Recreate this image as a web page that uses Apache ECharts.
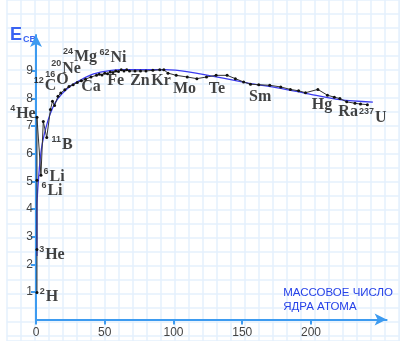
<!DOCTYPE html>
<html lang="ru">
<head>
<meta charset="UTF-8">
<title>Энергия связи</title>
<style>
  html, body { margin: 0; padding: 0; background: #fff; }
  #chart { width: 400px; height: 341px; }
</style>
</head>
<body>
<div id="chart"></div>
<script src="https://cdn.jsdelivr.net/npm/echarts@6/dist/echarts.min.js"></script>
<script>
// experimental curve (black, with dots)
var expA = [0.7, 0.7, 0.7, 0.7, 3.6, 5.3, 7.8, 10.5, 12, 13.5, 16, 18, 21, 24, 27, 30, 33, 36, 40, 44, 46, 48, 50, 52, 54, 56, 58, 60, 62, 64, 66, 68, 72, 76, 80, 85, 90, 93, 96, 102, 110, 117, 124, 131, 139, 145, 151, 156, 162, 170, 178, 185, 191, 196, 205, 212, 217, 221, 226, 232, 236, 241];
var expE = [0.98, 2.54, 5.04, 7.32, 5.22, 7.17, 6.59, 7.6, 7.9, 7.75, 8.08, 8.2, 8.32, 8.44, 8.5, 8.58, 8.64, 8.7, 8.78, 8.84, 8.88, 8.85, 8.92, 8.9, 8.96, 8.94, 9.0, 8.98, 9.04, 9.0, 9.04, 9.0, 9.0, 9.0, 9.0, 9.02, 9.04, 9.04, 8.92, 8.84, 8.78, 8.72, 8.78, 8.84, 8.84, 8.72, 8.6, 8.52, 8.5, 8.48, 8.42, 8.33, 8.28, 8.21, 8.33, 8.12, 8.05, 8.0, 7.88, 7.83, 7.8, 7.78];

// smooth theoretical curve (blue)
var fitA = [0.7, 0.7, 2, 4, 7, 10, 14, 19, 25, 32, 40, 50, 61, 94, 156, 172, 197, 221, 245];
var fitE = [2.3, 4.06, 5.2, 6.2, 6.9, 7.4, 7.85, 8.18, 8.45, 8.66, 8.86, 8.98, 9.05, 9.05, 8.54, 8.42, 8.18, 7.96, 7.87];

// element annotations
var labelSup = ['2', '3', '6', '6', '11', '4', '12', '16', '20', '24', '62', '', '', '', '', '', '', '', '', '', '237'];
var labelSym = ['H', 'He', 'Li', 'Li', 'B', 'He', 'C', 'O', 'Ne', 'Mg', 'Ni', 'Ca', 'Fe', 'Zn', 'Kr', 'Mo', 'Te', 'Sm', 'Hg', 'Ra', 'U'];
var labelA = [9.5, 11.6, 11.6, 13.1, 18.9, -9.5, 6.5, 15.3, 21.8, 32, 56, 40, 58, 75.6, 91, 108, 131.6, 163, 208, 227, 245];
var labelE = [0.86, 2.38, 4.7, 5.2, 6.36, 7.48, 8.5, 8.72, 9.12, 9.55, 9.52, 8.46, 8.68, 8.68, 8.68, 8.39, 8.39, 8.1, 7.81, 7.56, 7.35];

var xTicks = [0, 50, 100, 150, 200];
var yTicks = [1, 2, 3, 4, 5, 6, 7, 8, 9];

var axisBlue = '#3d9bf0';
var paperLine = '#e4f1fc';

function pairs(a, b) {
  return a.map(function (v, i) { return [v, b[i]]; });
}

var labelData = labelSym.map(function (s, i) {
  return { value: [labelA[i], labelE[i]], sup: labelSup[i], sym: s };
});

var chart = echarts.init(document.getElementById('chart'), null, { renderer: 'canvas' });
chart.setOption({
  backgroundColor: '#fff',
  animation: false,
  title: {
    text: '{e|E}{s|СВ}',
    left: 5,
    top: 21,
    textStyle: {
      rich: {
        e: { fontFamily: 'Liberation Sans', fontSize: 18, color: '#3a63f2', verticalAlign: 'bottom', lineHeight: 18 },
        s: { fontFamily: 'Liberation Sans', fontSize: 9, color: '#3a63f2', verticalAlign: 'bottom', lineHeight: 12, padding: [0, 0, 0, 1] }
      }
    }
  },
  graphic: [{
    type: 'text',
    right: 7,
    top: 286,
    z: 100,
    style: {
      text: 'МАССОВОЕ ЧИСЛО\nЯДРА АТОМА',
      align: 'right',
      fill: '#2742e8',
      font: '11.5px "Liberation Sans"',
      lineHeight: 14
    }
  }],
  grid: [
    { left: 36, right: 13.4, top: 35, bottom: 21.4 },
    { left: 6.7, right: 0, top: 0, bottom: 0 }
  ],
  xAxis: [{
    type: 'value',
    gridIndex: 0,
    min: 0,
    max: 255,
    interval: 50,
    z: 10,
    axisLine: { lineStyle: { color: axisBlue, width: 2 }, symbol: ['none', 'arrow'], symbolSize: [9, 12] },
    axisTick: { show: true, length: 5, lineStyle: { color: axisBlue, width: 2 }, customValues: xTicks },
    axisLabel: { color: '#444', fontSize: 12, fontFamily: 'Liberation Sans', margin: 7, customValues: xTicks },
    splitLine: { show: false }
  }, {
    type: 'value',
    gridIndex: 1,
    min: 0,
    max: 393.3,
    interval: 14,
    z: 0,
    axisLine: { show: false },
    axisTick: { show: false },
    axisLabel: { show: false },
    splitLine: { show: true, lineStyle: { color: paperLine, width: 1.5 } }
  }],
  yAxis: [{
    type: 'value',
    gridIndex: 0,
    min: 0,
    max: 10.3,
    interval: 1,
    z: 10,
    axisLine: { show: true, lineStyle: { color: axisBlue, width: 2 }, symbol: ['none', 'arrow'], symbolSize: [9, 12] },
    axisTick: { show: true, length: 5, lineStyle: { color: axisBlue, width: 2 }, customValues: yTicks },
    axisLabel: { color: '#444', fontSize: 12, fontFamily: 'Liberation Sans', margin: 3, customValues: yTicks },
    splitLine: { show: false }
  }, {
    type: 'value',
    gridIndex: 1,
    inverse: true,
    min: 0,
    max: 341,
    interval: 14,
    z: 0,
    axisLine: { show: false },
    axisTick: { show: false },
    axisLabel: { show: false },
    splitLine: { show: true, lineStyle: { color: paperLine, width: 1.5 } }
  }],
  series: [{
    type: 'line',
    name: 'fit',
    xAxisIndex: 0,
    yAxisIndex: 0,
    data: pairs(fitA, fitE),
    showSymbol: false,
    smooth: 0.3,
    lineStyle: { color: '#3b3bef', width: 1.3 },
    z: 13
  }, {
    type: 'line',
    name: 'exp',
    xAxisIndex: 0,
    yAxisIndex: 0,
    data: pairs(expA, expE),
    symbol: 'circle',
    symbolSize: 3,
    itemStyle: { color: '#111' },
    lineStyle: { color: '#333', width: 1 },
    z: 14
  }, {
    type: 'scatter',
    name: 'labels',
    xAxisIndex: 0,
    yAxisIndex: 0,
    clip: false,
    symbol: 'circle',
    symbolSize: 1,
    itemStyle: { color: 'rgba(0,0,0,0)' },
    data: labelData,
    z: 15,
    label: {
      show: true,
      position: 'inside',
      formatter: function (p) {
        return (p.data.sup ? '{s|' + p.data.sup + '}' : '') + '{b|' + p.data.sym + '}';
      },
      rich: {
        s: { fontFamily: 'Liberation Sans', fontWeight: 'bold', fontSize: 9, color: '#111', verticalAlign: 'bottom', lineHeight: 10, padding: [0, 1, 9, 0] },
        b: { fontFamily: 'Liberation Serif', fontWeight: 'bold', fontSize: 16, color: '#111', verticalAlign: 'bottom', lineHeight: 18 }
      }
    }
  }]
});
</script>
</body>
</html>
